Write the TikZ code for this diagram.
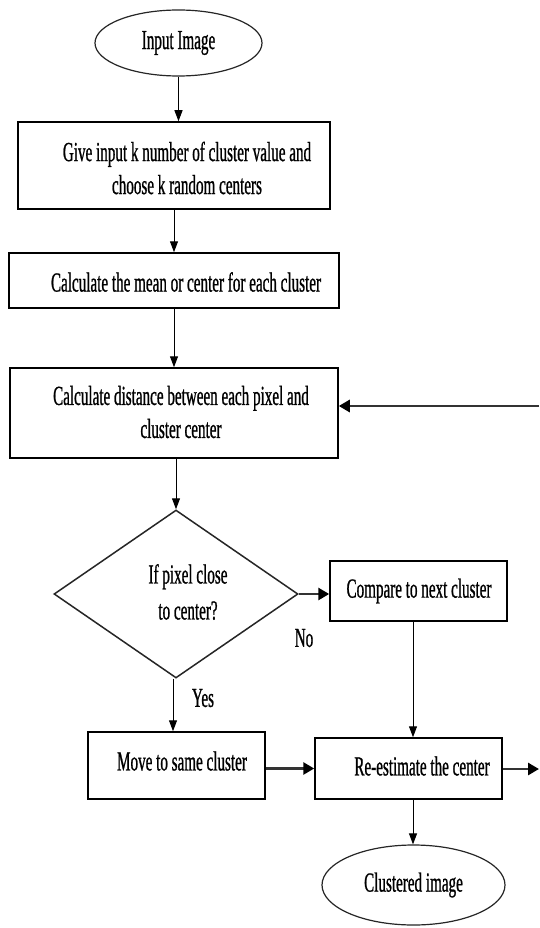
\documentclass[tikz,border=0pt]{standalone}
\usepackage{fontspec}
\setmainfont[FakeStretch=0.55,FakeBold=0.8]{Liberation Serif}
\usetikzlibrary{shapes.geometric,arrows.meta}
\begin{document}
\begin{tikzpicture}[x=1pt,y=-1pt,
  boxnode/.style={draw=black, line width=1.5pt, inner sep=0pt, fill=white},
  ellnode/.style={ellipse, draw=black!85, line width=1.2pt, inner sep=0pt},
  txt/.style={font=\fontsize{27.5}{33}\selectfont, align=center, inner sep=0pt},
  thinarrow/.style={-{Triangle[length=11pt,width=8pt]}, line width=1pt},
  thickarrow/.style={-{Triangle[length=11pt,width=12pt,color=black,fill=black]}, line width=2.8pt, draw=black!80}]
\useasboundingbox[fill=white] (0,0) rectangle (539,928);

% nodes
\node[ellnode, minimum width=167pt, minimum height=66pt, txt] (in) at (178.5,43) {Input Image};
\node[boxnode, minimum width=312pt, minimum height=87pt] (b1) at (174,165.5) {};
\node[txt] (t1) at (187,168) {Give input k number of cluster value and\\choose k random centers};
\node[boxnode, minimum width=330pt, minimum height=55pt] (b2) at (174,280.5) {};
\node[txt] (t2) at (186,282) {Calculate the mean or center for each cluster};
\node[boxnode, minimum width=328pt, minimum height=90pt] (b3) at (174,413) {};
\node[txt] (t3) at (181,412) {Calculate distance between each pixel and\\cluster center};
\node[diamond, draw=black!85, line width=1.5pt, inner sep=0pt, minimum width=244pt, minimum height=168pt] (d) at (176,594) {};
\node[txt, font=\fontsize{27.5}{36}\selectfont] (td) at (188,592) {If pixel close\\to center?};
\node[boxnode, minimum width=177pt, minimum height=60pt] (cmp) at (418.5,591) {};
\node[txt] (tcmp) at (419,591) {Compare to next cluster};
\node[boxnode, minimum width=177pt, minimum height=67pt] (mv) at (176.5,765.5) {};
\node[txt] (tmv) at (182,761) {Move to same cluster};
\node[boxnode, minimum width=187pt, minimum height=61pt] (re) at (408.5,768.5) {};
\node[txt] (tre) at (422,766) {Re-estimate the center};
\node[ellnode, minimum width=183pt, minimum height=80pt, txt] (cl) at (413.5,885) {Clustered image};
\node[txt] (yes) at (203,698) {Yes};
\node[txt] (no) at (304,638) {No};
\coordinate (outR) at (539,769);
\coordinate (fbR) at (539,406);

% connectors
\draw[thinarrow] (in.south) -- (in.south |- b1.north);
\draw[thinarrow] (b1.south) -- (b2.north);
\draw[thinarrow] (b2.south) -- (b3.north);
\draw[thinarrow] (b3.south -| d.north) -- (d.north);
\draw[thinarrow] ([xshift=-3pt]d.south) -- ([xshift=-3pt]d.south |- mv.north);
\draw[thickarrow] (d.east) -- (d.east -| cmp.west);
\draw[thinarrow] (cmp.south -| re.north) ++(4.5,0) coordinate (cs) -- (cs |- re.north);
\draw[thickarrow] (mv.east |- re.west) -- (re.west);
\draw[thinarrow] ([xshift=4.5pt]re.south) coordinate (rs) -- (rs |- cl.north);
\draw[thickarrow] (re.east |- outR) -- (outR);
\draw[thickarrow] (fbR) -- (fbR -| b3.east);
\end{tikzpicture}
\end{document}
